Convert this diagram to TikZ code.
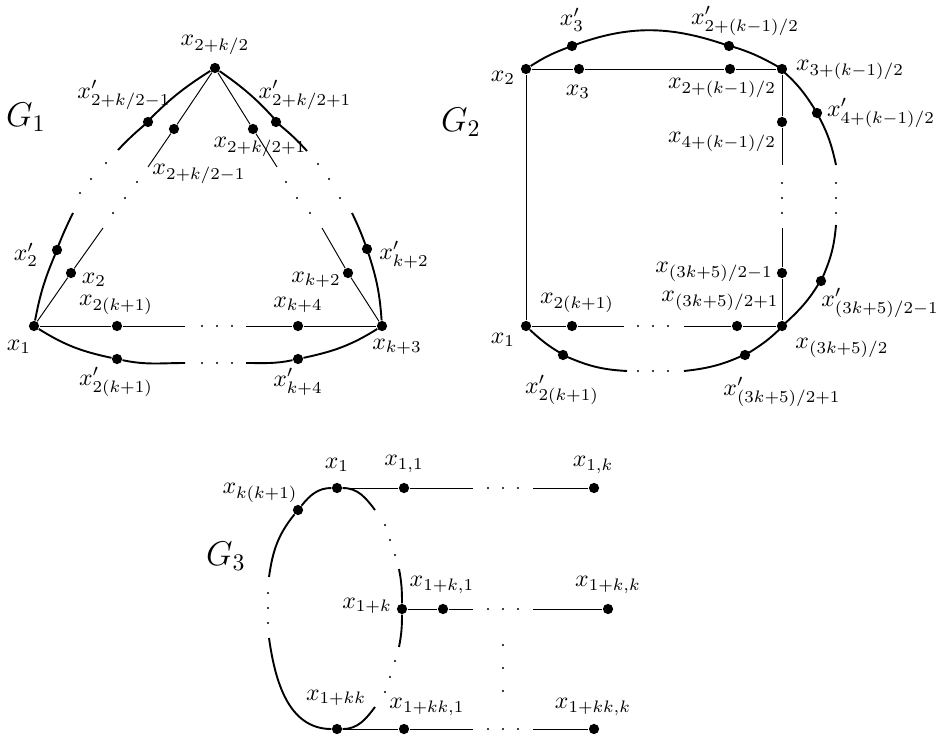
\documentclass[tikz,border=0pt]{standalone}
\usepackage{amsmath}
\usepackage{amssymb}
\usepackage{tikz}

\begin{document}
\begin{tikzpicture}[x=0.42pt, y=0.42pt,
    vtx/.style={circle, fill, inner sep=0pt, minimum size=4.3pt},
    lab/.style={inner sep=0pt},
    glab/.style={inner sep=0pt, font=\Large},
    ln/.style={thin},
    cv/.style={line width=0.8pt},
]
\useasboundingbox (0,0) rectangle (939,-742);
% G1
\node[vtx] (g1a) at (34,-326) {};
\node[vtx] (g1b) at (382,-326) {};
\node[vtx] (g1t) at (215,-68) {};
\node[vtx] (g1l1) at (71,-273) {};
\node[vtx] (g1l2) at (174,-129) {};
\node[vtx] (g1r1) at (348,-273) {};
\node[vtx] (g1r2) at (253,-129) {};
\node[vtx] (g1p1) at (57,-250) {};
\node[vtx] (g1p2) at (148,-122) {};
\node[vtx] (g1q1) at (367,-249) {};
\node[vtx] (g1q2) at (276,-122) {};
\node[vtx] (g1h1) at (117,-326) {};
\node[vtx] (g1h2) at (298,-326) {};
\node[vtx] (g1c1) at (117,-359) {};
\node[vtx] (g1c2) at (298,-359) {};
\coordinate (g1la) at (103,-228); \coordinate (g1lb) at (148,-167);
\coordinate (g1ra) at (322,-228); \coordinate (g1rb) at (277,-167);
\coordinate (g1pa) at (73,-213);  \coordinate (g1pb) at (118,-150);
\coordinate (g1qa) at (352,-213); \coordinate (g1qb) at (307,-151);
\coordinate (g1ha) at (185,-326); \coordinate (g1hb) at (246,-326);
\coordinate (g1ca) at (185,-363); \coordinate (g1cb) at (246,-363);
\node[glab] (G1) at (26,-117) {$G_1$};
\node[lab] (l1t) at (215,-45) {$x_{2+k/2}$};
\node[lab] (l1p2) at (124,-95) {$x'_{2+k/2-1}$};
\node[lab] (l1q2) at (305,-95) {$x'_{2+k/2+1}$};
\node[lab] (l1l2) at (199,-174) {$x_{2+k/2-1}$};
\node[lab] (l1r2) at (260,-147) {$x_{2+k/2+1}$};
\node[lab] (l1p1) at (26,-255) {$x'_2$};
\node[lab] (l1l1) at (94,-280) {$x_2$};
\node[lab] (l1r1) at (316,-280) {$x_{k+2}$};
\node[lab] (l1q1) at (404,-255) {$x'_{k+2}$};
\node[lab] (l1h1) at (116,-305) {$x_{2(k+1)}$};
\node[lab] (l1h2) at (298,-305) {$x_{k+4}$};
\node[lab] (l1a) at (19,-347) {$x_1$};
\node[lab] (l1b) at (397,-347) {$x_{k+3}$};
\node[lab] (l1c1) at (116,-382) {$x'_{2(k+1)}$};
\node[lab] (l1c2) at (298,-382) {$x'_{k+4}$};
\draw[ln] (g1a) -- (g1l1) -- (g1la); \draw[ln] (g1lb) -- (g1l2) -- (g1t);
\draw[ln] (g1b) -- (g1r1) -- (g1ra); \draw[ln] (g1rb) -- (g1r2) -- (g1t);
\draw[ln] (g1a) -- (g1h1) -- (g1ha); \draw[ln] (g1hb) -- (g1h2) -- (g1b);
\draw[cv] (g1a) to[bend left=6] (g1p1) to[bend left=3] (g1pa);
\draw[cv] (g1pb) to[bend left=3] (g1p2) to[bend left=7] (g1t);
\draw[cv] (g1b) to[bend right=7] (g1q1) to[bend right=3.5] (g1qa);
\draw[cv] (g1qb) to[bend right=4] (g1q2) to[bend right=7] (g1t);
\draw[cv] (g1a) to[out=-32,in=168] (g1c1) to[out=-12,in=180] (g1ca);
\draw[cv] (g1cb) to[out=0,in=192] (g1c2) to[out=12,in=212] (g1b);
\foreach \x/\y in {80/-193,91/-179,106/-163, 113/-213,125/-198,137/-182,
                   286/-182,297/-198,310/-213, 318/-164,329/-179,340/-198,
                   202/-326,217/-326,232/-326, 202/-363,217/-363,232/-363}
  \fill (\x,\y) circle (0.5pt);
% G2
\node[vtx] (g2a) at (526,-326) {};
\node[vtx] (g2b) at (526,-69) {};
\node[vtx] (g2c) at (579,-69) {};
\node[vtx] (g2d) at (730,-69) {};
\node[vtx] (g2e) at (782,-69) {};
\node[vtx] (g2f) at (782,-122) {};
\node[vtx] (g2g) at (782,-273) {};
\node[vtx] (g2h) at (782,-326) {};
\node[vtx] (g2i) at (737,-326) {};
\node[vtx] (g2j) at (572,-326) {};
\node[vtx] (g2p3) at (572,-46) {};
\node[vtx] (g2p4) at (729,-46) {};
\node[vtx] (g2p5) at (817,-113) {};
\node[vtx] (g2p6) at (821,-281) {};
\node[vtx] (g2p7) at (745,-355) {};
\node[vtx] (g2p8) at (563,-355) {};
\coordinate (g2va) at (782,-165); \coordinate (g2vb) at (782,-228);
\coordinate (g2ra) at (836,-165); \coordinate (g2rb) at (836,-225);
\coordinate (g2ha) at (624,-326); \coordinate (g2hb) at (684,-326);
\coordinate (g2ca) at (627,-371); \coordinate (g2cb) at (684,-371);
\node[glab] (G2) at (461,-122) {$G_2$};
\node[lab] (l2b) at (503,-78) {$x_2$};
\node[lab] (l2c) at (578,-92) {$x_3$};
\node[lab] (l2d) at (722,-88) {$x_{2+(k-1)/2}$};
\node[lab] (l2e) at (850,-70) {$x_{3+(k-1)/2}$};
\node[lab] (l2p3) at (572,-20) {$x'_3$};
\node[lab] (l2p4) at (745,-21) {$x'_{2+(k-1)/2}$};
\node[lab] (l2p5) at (881,-113) {$x'_{4+(k-1)/2}$};
\node[lab] (l2f) at (722,-142) {$x_{4+(k-1)/2}$};
\node[lab] (l2g) at (714,-272) {$x_{(3k+5)/2-1}$};
\node[lab] (l2p6) at (880,-303) {$x'_{(3k+5)/2-1}$};
\node[lab] (l2j) at (577,-303) {$x_{2(k+1)}$};
\node[lab] (l2i) at (720,-301) {$x_{(3k+5)/2+1}$};
\node[lab] (l2a) at (503,-340) {$x_1$};
\node[lab] (l2h) at (842,-348) {$x_{(3k+5)/2}$};
\node[lab] (l2p8) at (562,-390) {$x'_{2(k+1)}$};
\node[lab] (l2p7) at (782,-392) {$x'_{(3k+5)/2+1}$};
\draw[ln] (g2a) -- (g2b) -- (g2c) -- (g2d) -- (g2e) -- (g2f) -- (g2va);
\draw[ln] (g2vb) -- (g2g) -- (g2h) -- (g2i) -- (g2hb);
\draw[ln] (g2a) -- (g2j) -- (g2ha);
\draw[cv] (g2b) to[bend left=6] (g2p3) to[bend left=20] (g2p4) to[bend left=7] (g2e)
  to[bend left=9] (g2p5) to[bend left=9] (g2ra);
\draw[cv] (g2rb) to[bend left=9] (g2p6) to[bend left=9] (g2h) to[bend left=7.5] (g2p7)
  to[bend left=10] (g2cb);
\draw[cv] (g2ca) to[bend left=10] (g2p8) to[bend left=7.5] (g2a);
\foreach \x/\y in {782/-183,782/-198,782/-213, 836/-183,836/-198,836/-213,
                   638/-326,653/-326,668/-326, 638/-371,653/-371,668/-371}
  \fill (\x,\y) circle (0.5pt);
% G3
\node[vtx] (g3a) at (337,-488) {};
\node[vtx] (g3a1) at (404,-488) {};
\node[vtx] (g3ak) at (594,-488) {};
\node[vtx] (g3b) at (402,-609) {};
\node[vtx] (g3b1) at (443,-609) {};
\node[vtx] (g3bk) at (608,-609) {};
\node[vtx] (g3c) at (337,-729) {};
\node[vtx] (g3c1) at (404,-729) {};
\node[vtx] (g3ck) at (594,-729) {};
\node[vtx] (g3d) at (298,-510) {};
\coordinate (g3ah) at (473,-488); \coordinate (g3ai) at (533,-488);
\coordinate (g3bh) at (473,-609); \coordinate (g3bi) at (533,-609);
\coordinate (g3ch) at (473,-729); \coordinate (g3ci) at (533,-729);
\coordinate (g3la) at (269,-577); \coordinate (g3lb) at (269,-638);
\coordinate (g3ra) at (375,-510); \coordinate (g3rb) at (399,-569);
\coordinate (g3rc) at (399,-647); \coordinate (g3rd) at (375,-707);
\node[glab] (G3) at (226,-556) {$G_3$};
\node[lab] (l3a) at (337,-465) {$x_1$};
\node[lab] (l3a1) at (404,-464) {$x_{1,1}$};
\node[lab] (l3ak) at (593,-465) {$x_{1,k}$};
\node[lab] (l3d) at (260,-493) {$x_{k(k+1)}$};
\node[lab] (l3b1) at (442,-585) {$x_{1+k,1}$};
\node[lab] (l3bk) at (608,-585) {$x_{1+k,k}$};
\node[lab] (l3b) at (367,-606) {$x_{1+k}$};
\node[lab] (l3c) at (336,-698) {$x_{1+kk}$};
\node[lab] (l3c1) at (427,-707) {$x_{1+kk,1}$};
\node[lab] (l3ck) at (593,-707) {$x_{1+kk,k}$};
\draw[ln] (g3a) -- (g3a1) -- (g3ah); \draw[ln] (g3ai) -- (g3ak);
\draw[ln] (g3b) -- (g3b1) -- (g3bh); \draw[ln] (g3bi) -- (g3bk);
\draw[ln] (g3c) -- (g3c1) -- (g3ch); \draw[ln] (g3ci) -- (g3ck);
\draw[cv] (g3a) to[out=180,in=51] (g3d) to[out=231,in=82] (g3la);
\draw[cv] (g3lb) to[out=278,in=180] (g3c);
\draw[cv] (g3a) to[out=0,in=127] (g3ra);
\draw[cv] (g3rb) to[out=-79,in=90] (g3b) to[out=-90,in=79] (g3rc);
\draw[cv] (g3rd) to[out=233,in=0] (g3c);
\foreach \x/\y in {488/-488,503/-488,518/-488, 488/-609,503/-609,518/-609,
                   488/-729,503/-729,518/-729, 503/-645,503/-668,503/-691,
                   268/-593,268/-608,268/-623, 385/-525,390/-540,395/-555,
                   395/-661,390/-677,385/-692}
  \fill (\x,\y) circle (0.5pt);
\end{tikzpicture}
\end{document}
